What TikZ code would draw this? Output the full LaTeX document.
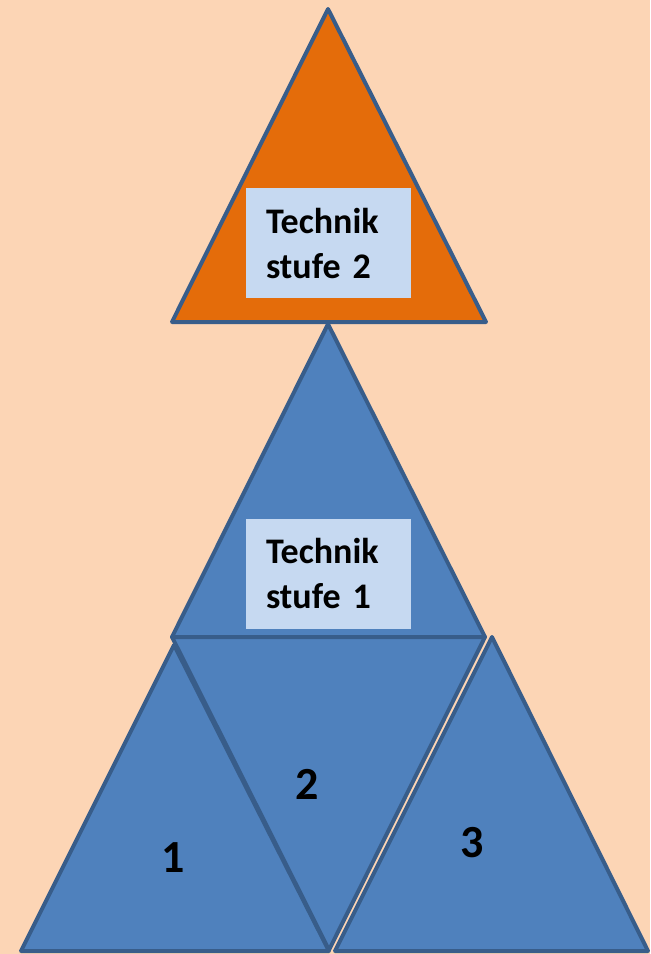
\documentclass[tikz,border=0pt]{standalone}
\usepackage{fontspec}
\setmainfont{Carlito}
\usetikzlibrary{positioning}

\definecolor{peach}{HTML}{FCD5B5}
\definecolor{stoneorange}{HTML}{E46C0A}
\definecolor{stoneblue}{HTML}{4F81BD}
\definecolor{edgeblue}{HTML}{385D8A}
\definecolor{boxblue}{HTML}{C6D9F1}

\begin{document}
\begin{tikzpicture}[x=0.5pt, y={(0pt,-0.5pt)},
        stone/.style={draw=edgeblue, line width=2pt, line join=round},
        labelbox/.style={fill=boxblue, inner xsep=10pt, text width=62.5pt,
            minimum height=55pt, align=left,
            font=\fontsize{18}{22.5}\selectfont\bfseries},
        digit/.style={font=\fontsize{23}{28}\selectfont\bfseries}]
        \fill[peach] (0,0) rectangle (650,954);

        % corners
        \coordinate (apex2) at (328,9);
        \coordinate (apex1) at (328,324);
        \coordinate (midL) at (172,637);
        \coordinate (midR) at (485,637);
        \coordinate (apexA) at (174,645);
        \coordinate (apexC) at (492,637);
        \coordinate (botL) at (21,951);
        \coordinate (botM) at (329,951);
        \coordinate (botB) at (329,950);
        \coordinate (botC) at (335,951);
        \coordinate (botR) at (648,951);

        % stufe 1 and the three bricks
        \filldraw[stone, fill=stoneblue] (apex1) -- (midR) -- (midL) -- cycle;
        \filldraw[stone, fill=stoneblue] (apexA) -- (botM) -- (botL) -- cycle;
        \filldraw[stone, fill=stoneblue] (midL) -- (midR) -- (botB) -- cycle;
        \filldraw[stone, fill=stoneblue] (apexC) -- (botR) -- (botC) -- cycle;

        % stufe 2
        \filldraw[stone, fill=stoneorange] (apex2) -- (486,322) -- (172,322) -- cycle;

        \node[labelbox] (stufe2) at (328.5,243) {Technik\\stufe 2};
        \node[labelbox, below=110pt of stufe2] (stufe1) {Technik\\stufe 1};

        \node[digit] (n1) at (173,858) {1};
        \node[digit] (n2) at (307,784) {2};
        \node[digit] (n3) at (472,843) {3};
    \end{tikzpicture}
\end{document}
